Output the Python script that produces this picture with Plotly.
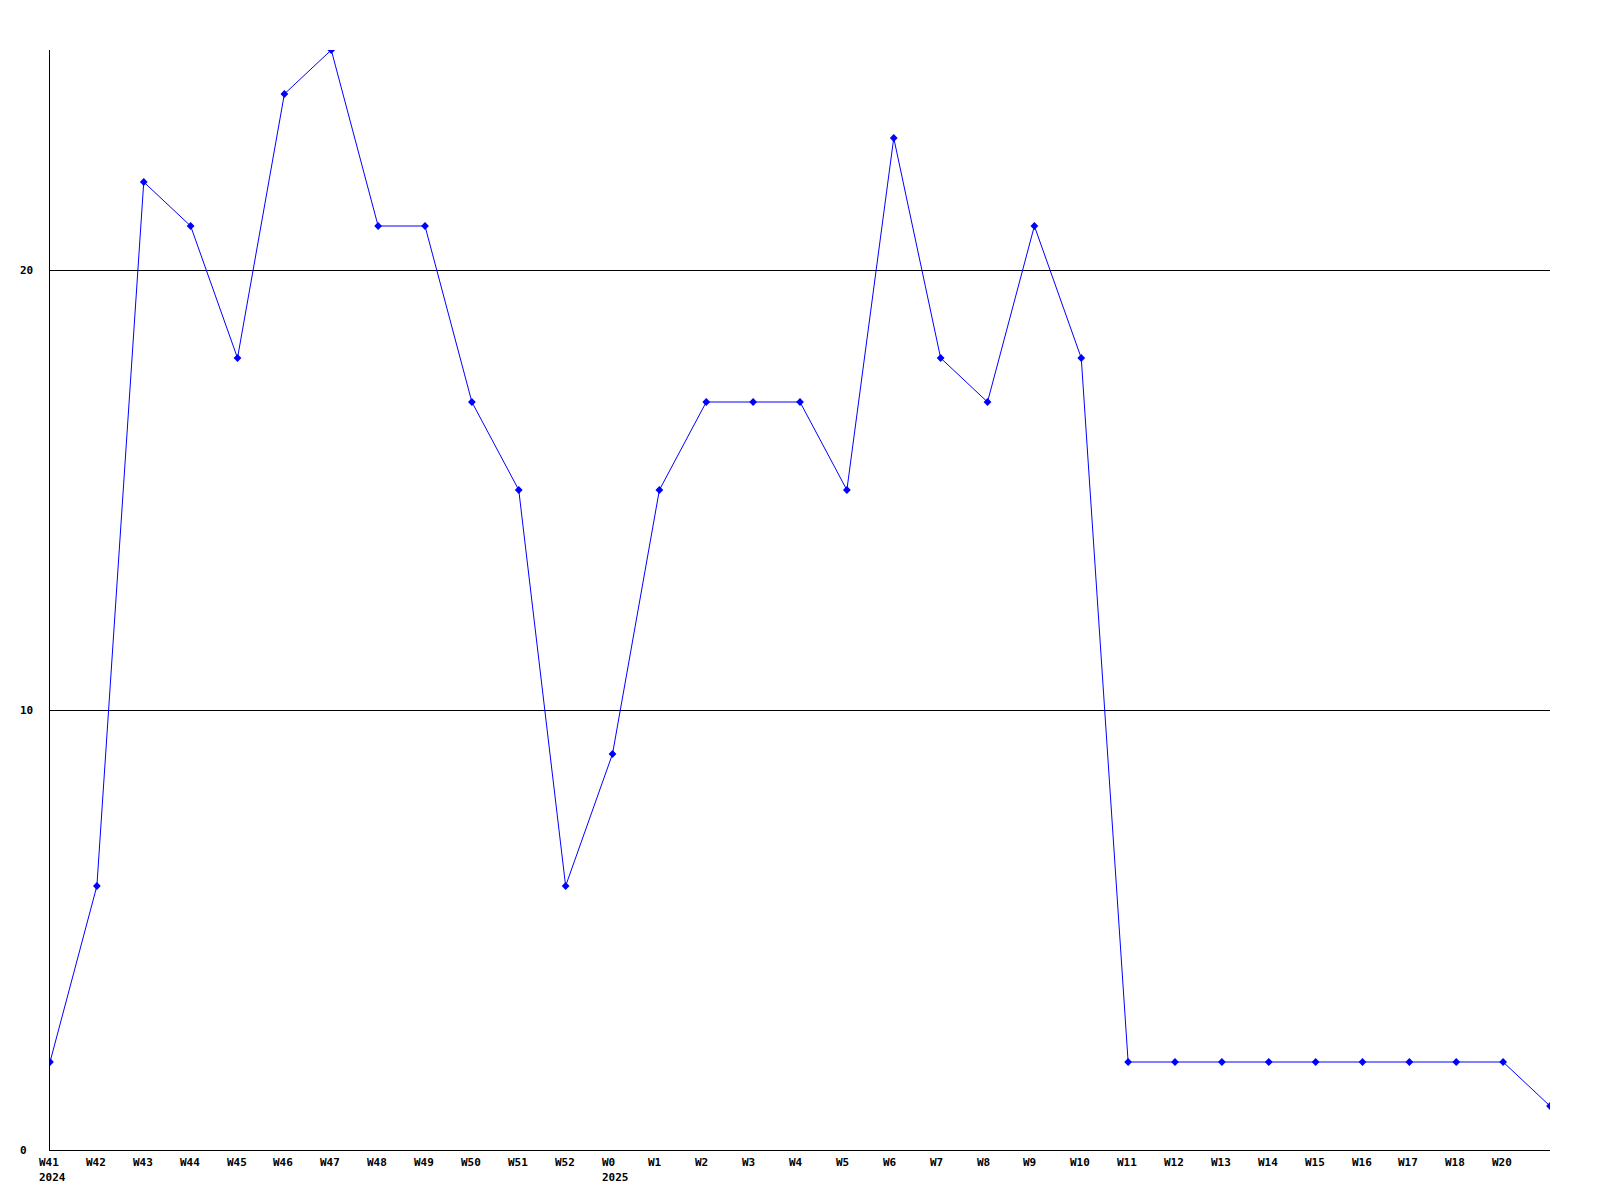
import plotly.graph_objects as go

weeks = ["W41", "W42", "W43", "W44", "W45", "W46", "W47", "W48", "W49", "W50", "W51", "W52",
         "W0", "W1", "W2", "W3", "W4", "W5", "W6", "W7", "W8", "W9", "W10", "W11", "W12",
         "W13", "W14", "W15", "W16", "W17", "W18", "W20", ""]
years = {"W41": "2024", "W0": "2025"}
values = [2, 6, 22, 21, 18, 24, 25, 21, 21, 17, 15, 6,
          9, 15, 17, 17, 17, 15, 23, 18, 17, 21, 18, 2, 2,
          2, 2, 2, 2, 2, 2, 2, 1]
y_ticks = [0, 10, 20]

xs = list(range(len(weeks)))
FONT = dict(family="DejaVu Sans Mono", size=11, color="black")

fig = go.Figure()
fig.add_trace(go.Scatter(
    x=xs, y=values, mode="lines+markers",
    line=dict(color="#0000FF", width=1),
    marker=dict(color="#0000FF", size=6, symbol="diamond"),
    hoverinfo="skip",
))

annotations = []
for i, w in enumerate(weeks):
    if not w:
        continue
    annotations.append(dict(x=i, y=0, xref="x", yref="y", text="<b>%s</b>" % w,
                            showarrow=False, xanchor="left", yanchor="middle",
                            xshift=-13, yshift=-12, font=FONT))
    if w in years:
        annotations.append(dict(x=i, y=0, xref="x", yref="y", text="<b>%s</b>" % years[w],
                                showarrow=False, xanchor="left", yanchor="middle",
                                xshift=-13, yshift=-27, font=FONT))
for t in y_ticks:
    annotations.append(dict(x=0, y=t, xref="paper", yref="y", text="<b>%d</b>" % t,
                            showarrow=False, xanchor="left", yanchor="middle",
                            xshift=-32, font=FONT))

fig.update_layout(
    width=1600, height=1200,
    margin=dict(l=50, r=50, t=50, b=50),
    plot_bgcolor="white", paper_bgcolor="white",
    showlegend=False,
    annotations=annotations,
    xaxis=dict(range=[0, len(weeks) - 1], showgrid=False, zeroline=False,
               showline=True, linecolor="black", linewidth=1,
               showticklabels=False, ticks=""),
    yaxis=dict(range=[0, 25], tickvals=y_ticks, showgrid=True, gridcolor="black",
               gridwidth=1, zeroline=False, showline=True, linecolor="black",
               linewidth=1, showticklabels=False, ticks=""),
)

fig.write_html("out.html", config={"displayModeBar": False},
               post_script="document.body.style.margin='0';document.body.style.overflow='hidden';")
